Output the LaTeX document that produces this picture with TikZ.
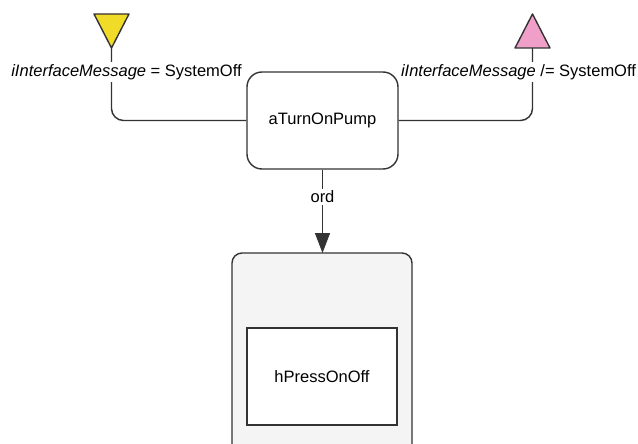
\documentclass[tikz,border=0pt]{standalone}
\usepackage{fontspec}
\setmainfont{Liberation Sans}
\usetikzlibrary{arrows.meta}
\definecolor{lineC}{HTML}{333333}
\definecolor{yel}{HTML}{F0DC28}
\definecolor{pnk}{HTML}{F0A0C8}
\definecolor{grayfill}{HTML}{F4F4F4}
\tikzset{
  conn/.style={draw=lineC, line width=1.4pt},
  lbl/.style={fill=white, inner sep=2pt, font=\fontsize{16.5}{19}\selectfont},
  txt/.style={font=\fontsize{16.5}{19}\selectfont},
  tri/.style={draw=lineC, line width=1.4pt, line join=round},
}
\begin{document}
\begin{tikzpicture}[x=1pt,y=-1pt]
\useasboundingbox (0,0) rectangle (638,444);
% triangles
\draw[tri, fill=yel] (94,14) -- (129,14) -- (111.5,48) -- cycle;
\coordinate (ytip) at (111.5,48);
\draw[tri, fill=pnk] (515,48) -- (550,48) -- (532.5,14) -- cycle;
\coordinate (ptip) at (532.5,48);
% main action box
\node[draw=lineC, line width=1.4pt, rounded corners=15pt, minimum width=151pt, minimum height=97pt, txt] (pump) at (322.5,120.5) {aTurnOnPump};
% outer box
\draw[draw=lineC, line width=1.4pt, fill=grayfill, rounded corners=10pt] (232,253) rectangle (412,470);
\coordinate (outtop) at (322.5,253);
\node[draw=lineC, line width=1.4pt, fill=white, minimum width=150pt, minimum height=97pt, txt] (hp) at (322,376.5) {hPressOnOff};
% connectors
\draw[conn, rounded corners=12pt] (ytip) -- (ytip |- pump.west) -- (pump.west);
\draw[conn, rounded corners=12pt] (pump.east) -- (pump.east -| ptip) -- (ptip);
\draw[conn, -{Triangle[length=20pt,width=15pt]}] (pump.south) -- (outtop);
% labels
\node[lbl] (l1) at (126.5,72) {\textit{iInterfaceMessage} = SystemOff};
\node[lbl] (l2) at (518.5,72) {\textit{iInterfaceMessage} /= SystemOff};
\node[lbl] (l3) at (322.5,197) {ord};
\end{tikzpicture}
\end{document}
